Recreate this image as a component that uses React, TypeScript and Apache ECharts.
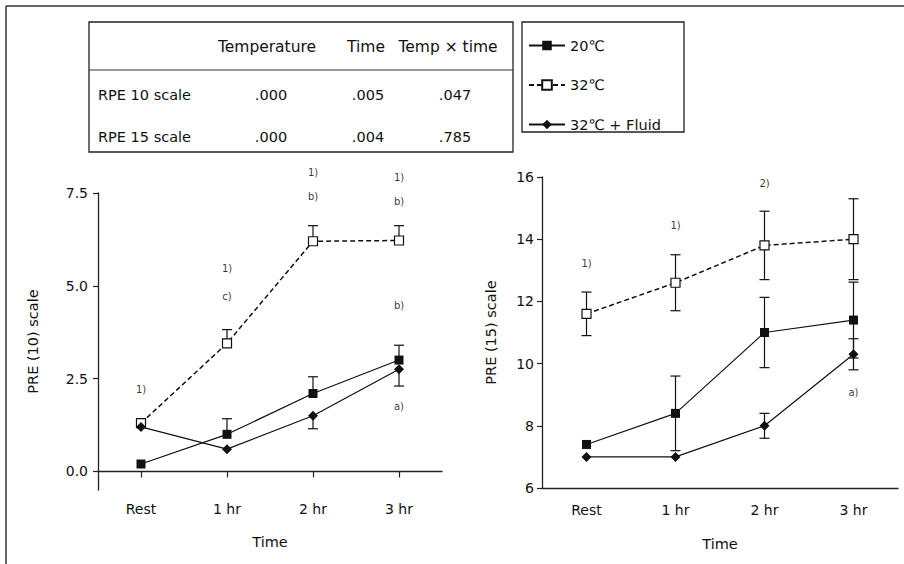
import React, { useEffect, useRef } from "react";
import * as echarts from "echarts";

const categories = ["Rest", "1 hr", "2 hr", "3 hr"];
const seriesNames = ["20℃", "32℃", "32℃ + Fluid"];

// Left panel: RPE (10) scale
const left20 = [0.2, 1.0, 2.1, 3.0];
const left32 = [1.3, 3.45, 6.2, 6.22];
const leftFluid = [1.2, 0.6, 1.5, 2.75];
const left20Err = [0, 0.42, 0.45, 0.4]; // drawn upward
const left32Err = [0.1, 0.37, 0.42, 0.4]; // drawn upward
const leftFluidErr = [0, 0, 0.35, 0.45]; // drawn downward

// Right panel: RPE (15) scale
const right20 = [7.4, 8.4, 11.0, 11.4];
const right32 = [11.6, 12.6, 13.8, 14.0];
const rightFluid = [7.0, 7.0, 8.0, 10.3];
const right20Err = [0, 1.2, 1.13, 1.22];
const right32Err = [0.7, 0.9, 1.1, 1.3];
const rightFluidErr = [0, 0, 0.4, 0.5];

const leftYTicks = [0, 2.5, 5, 7.5];
const rightYTicks = [6, 8, 10, 12, 14, 16];

const leftNoteCats = [0, 1, 1, 2, 2, 3, 3, 3, 3];
const leftNoteVals = [2.22, 5.46, 4.7, 8.04, 7.4, 7.91, 7.26, 4.46, 1.74];
const leftNoteTexts = ["1)", "1)", "c)", "1)", "b)", "1)", "b)", "b)", "a)"];
const rightNoteCats = [0, 1, 2, 3];
const rightNoteVals = [13.23, 14.45, 15.8, 9.06];
const rightNoteTexts = ["1)", "1)", "2)", "a)"];

const tableHeader = ["Temperature", "Time", "Temp × time"];
const tableRows = ["RPE 10 scale", "RPE 15 scale"];
const tableValues = [
  [".000", ".005", ".047"],
  [".000", ".004", ".785"],
];

const FONT = '"DejaVu Sans", sans-serif';
const INK = "#111";

type Mode = "up" | "down" | "both";
function errData(values: number[], err: number[], mode: Mode) {
  const out: number[][] = [];
  values.forEach((v, i) => {
    const e = err[i];
    if (!e) return;
    const lo = mode === "up" ? v : v - e;
    const hi = mode === "down" ? v : v + e;
    out.push([i, lo, hi, mode === "up" ? 0 : 1, mode === "down" ? 0 : 1]);
  });
  return out;
}

const renderErr = (params: any, api: any) => {
  const i = api.value(0);
  const lo = api.coord([i, api.value(1)]);
  const hi = api.coord([i, api.value(2)]);
  const w = 5;
  const st = { stroke: INK, lineWidth: 1.2 };
  const children: any[] = [
    { type: "line", shape: { x1: lo[0], y1: lo[1], x2: hi[0], y2: hi[1] }, style: st },
  ];
  if (api.value(3)) children.push({ type: "line", shape: { x1: lo[0] - w, y1: lo[1], x2: lo[0] + w, y2: lo[1] }, style: st });
  if (api.value(4)) children.push({ type: "line", shape: { x1: hi[0] - w, y1: hi[1], x2: hi[0] + w, y2: hi[1] }, style: st });
  return { type: "group", children };
};

function lineSeries(name: string, data: number[], idx: number) {
  const base: any = {
    name,
    type: "line",
    data,
    xAxisIndex: idx,
    yAxisIndex: idx,
    z: 3,
    lineStyle: { color: INK, width: 1.2 },
  };
  if (name === seriesNames[0]) {
    base.symbol = "rect";
    base.symbolSize = 9;
    base.itemStyle = { color: INK };
  } else if (name === seriesNames[1]) {
    base.symbol = "rect";
    base.symbolSize = 9;
    base.itemStyle = { color: "#fff", borderColor: INK, borderWidth: 1.2 };
    base.lineStyle = { color: INK, width: 1.5, type: [5, 3] };
  } else {
    base.symbol = "diamond";
    base.symbolSize = 10;
    base.itemStyle = { color: INK };
  }
  return base;
}

function errSeries(data: number[][], idx: number) {
  return {
    type: "custom",
    xAxisIndex: idx,
    yAxisIndex: idx,
    z: 2,
    silent: true,
    renderItem: renderErr,
    encode: { x: 0, y: [1, 2] },
    data,
  };
}

function noteSeries(cats: number[], vals: number[], texts: string[], idx: number) {
  return {
    type: "scatter",
    xAxisIndex: idx,
    yAxisIndex: idx,
    clip: false,
    silent: true,
    symbolSize: 1,
    itemStyle: { color: "transparent" },
    label: {
      show: true,
      position: "inside",
      formatter: (p: any) => p.name,
      fontFamily: FONT,
      fontSize: 10,
      color: "#000",
    },
    data: cats.map((c, i) => ({ value: [c, vals[i]], name: texts[i] })),
  };
}

function buildGraphic() {
  const els: any[] = [];
  const stroke = { stroke: "#222", lineWidth: 1.3 };
  // page frame
  els.push({ type: "line", shape: { x1: 6, y1: 6, x2: 904, y2: 6 }, style: { stroke: "#333", lineWidth: 1.5 } });
  els.push({ type: "line", shape: { x1: 6, y1: 6, x2: 6, y2: 564 }, style: { stroke: "#333", lineWidth: 1.5 } });
  // table
  els.push({ type: "rect", shape: { x: 89, y: 22, width: 424, height: 130 }, style: { fill: "none", ...stroke } });
  els.push({ type: "line", shape: { x1: 89, y1: 70, x2: 513, y2: 70 }, style: { stroke: "#333", lineWidth: 1 } });
  const colX = [267, 366, 448];
  const valX = [271, 368, 455];
  const rowY = [95, 137];
  tableHeader.forEach((t, i) => {
    els.push({
      type: "text",
      x: colX[i],
      y: 47,
      style: { text: t, font: `15.5px ${FONT}`, fill: INK, textAlign: "center", textVerticalAlign: "middle" },
    });
  });
  tableRows.forEach((r, ri) => {
    els.push({
      type: "text",
      x: 98,
      y: rowY[ri],
      style: { text: r, font: `14.5px ${FONT}`, fill: INK, textAlign: "left", textVerticalAlign: "middle" },
    });
    tableValues[ri].forEach((v, ci) => {
      els.push({
        type: "text",
        x: valX[ci],
        y: rowY[ri],
        style: { text: v, font: `14.5px ${FONT}`, fill: INK, textAlign: "center", textVerticalAlign: "middle" },
      });
    });
  });
  // legend box
  els.push({ type: "rect", shape: { x: 522, y: 22, width: 162, height: 110 }, style: { fill: "none", ...stroke } });
  return els;
}

export default function App() {
  const ref = useRef<HTMLDivElement>(null);
  useEffect(() => {
    if (!ref.current) return;
    const chart = echarts.init(ref.current, undefined, { renderer: "svg" });
    const axisLine = { show: true, lineStyle: { color: "#222", width: 1.3 } };
    const labelStyle = { fontFamily: FONT, fontSize: 14, color: INK };
    const nameStyle = { fontFamily: FONT, fontSize: 14.5, color: INK };
    const option: any = {
      animation: false,
      backgroundColor: "#fff",
      textStyle: { fontFamily: FONT },
      graphic: buildGraphic(),
      legend: {
        data: seriesNames,
        orient: "vertical",
        left: 528,
        top: 38,
        padding: 0,
        itemWidth: 36,
        itemHeight: 12,
        itemGap: 24.5,
        selectedMode: false,
        textStyle: { fontFamily: FONT, fontSize: 14.5, color: INK },
      },
      grid: [
        { left: 98, top: 193, width: 344, height: 297 },
        { left: 542, top: 177, width: 356, height: 311 },
      ],
      xAxis: [
        {
          type: "category",
          gridIndex: 0,
          data: categories,
          boundaryGap: true,
          axisLine,
          axisTick: { show: true, alignWithLabel: true, length: 6, lineStyle: { color: "#222", width: 1.2 } },
          axisLabel: { ...labelStyle, margin: 12 },
          name: "Time",
          nameLocation: "middle",
          nameGap: 44,
          nameTextStyle: nameStyle,
        },
        {
          type: "category",
          gridIndex: 1,
          data: categories,
          boundaryGap: true,
          axisLine,
          axisTick: { show: false },
          axisLabel: { ...labelStyle, margin: 15 },
          name: "Time",
          nameLocation: "middle",
          nameGap: 48,
          nameTextStyle: nameStyle,
        },
      ],
      yAxis: [
        {
          type: "value",
          gridIndex: 0,
          min: -0.5,
          max: 7.5,
          axisLine,
          splitLine: { show: false },
          axisTick: { show: true, length: 5, customValues: leftYTicks, lineStyle: { color: "#222", width: 1.2 } },
          axisLabel: { ...labelStyle, margin: 10, customValues: leftYTicks, formatter: (v: number) => v.toFixed(1) },
          name: "PRE (10) scale",
          nameLocation: "middle",
          nameGap: 58,
          nameTextStyle: nameStyle,
        },
        {
          type: "value",
          gridIndex: 1,
          min: 6,
          max: 16,
          interval: 2,
          axisLine,
          splitLine: { show: false },
          axisTick: { show: true, length: 5, customValues: rightYTicks, lineStyle: { color: "#222", width: 1.2 } },
          axisLabel: { ...labelStyle, margin: 8, customValues: rightYTicks },
          name: "PRE (15) scale",
          nameLocation: "middle",
          nameGap: 44,
          nameTextStyle: nameStyle,
        },
      ],
      series: [
        errSeries(errData(left20, left20Err, "up"), 0),
        errSeries(errData(left32, left32Err, "up"), 0),
        errSeries(errData(leftFluid, leftFluidErr, "down"), 0),
        lineSeries(seriesNames[0], left20, 0),
        lineSeries(seriesNames[1], left32, 0),
        lineSeries(seriesNames[2], leftFluid, 0),
        errSeries(errData(right20, right20Err, "both"), 1),
        errSeries(errData(right32, right32Err, "both"), 1),
        errSeries(errData(rightFluid, rightFluidErr, "both"), 1),
        lineSeries(seriesNames[0], right20, 1),
        lineSeries(seriesNames[1], right32, 1),
        lineSeries(seriesNames[2], rightFluid, 1),
        noteSeries(leftNoteCats, leftNoteVals, leftNoteTexts, 0),
        noteSeries(rightNoteCats, rightNoteVals, rightNoteTexts, 1),
      ],
    };
    chart.setOption(option);
    return () => chart.dispose();
  }, []);
  return (
    <div
      ref={ref}
      style={{ position: "fixed", left: 0, top: 0, width: 904, height: 564, background: "#fff" }}
    />
  );
}
